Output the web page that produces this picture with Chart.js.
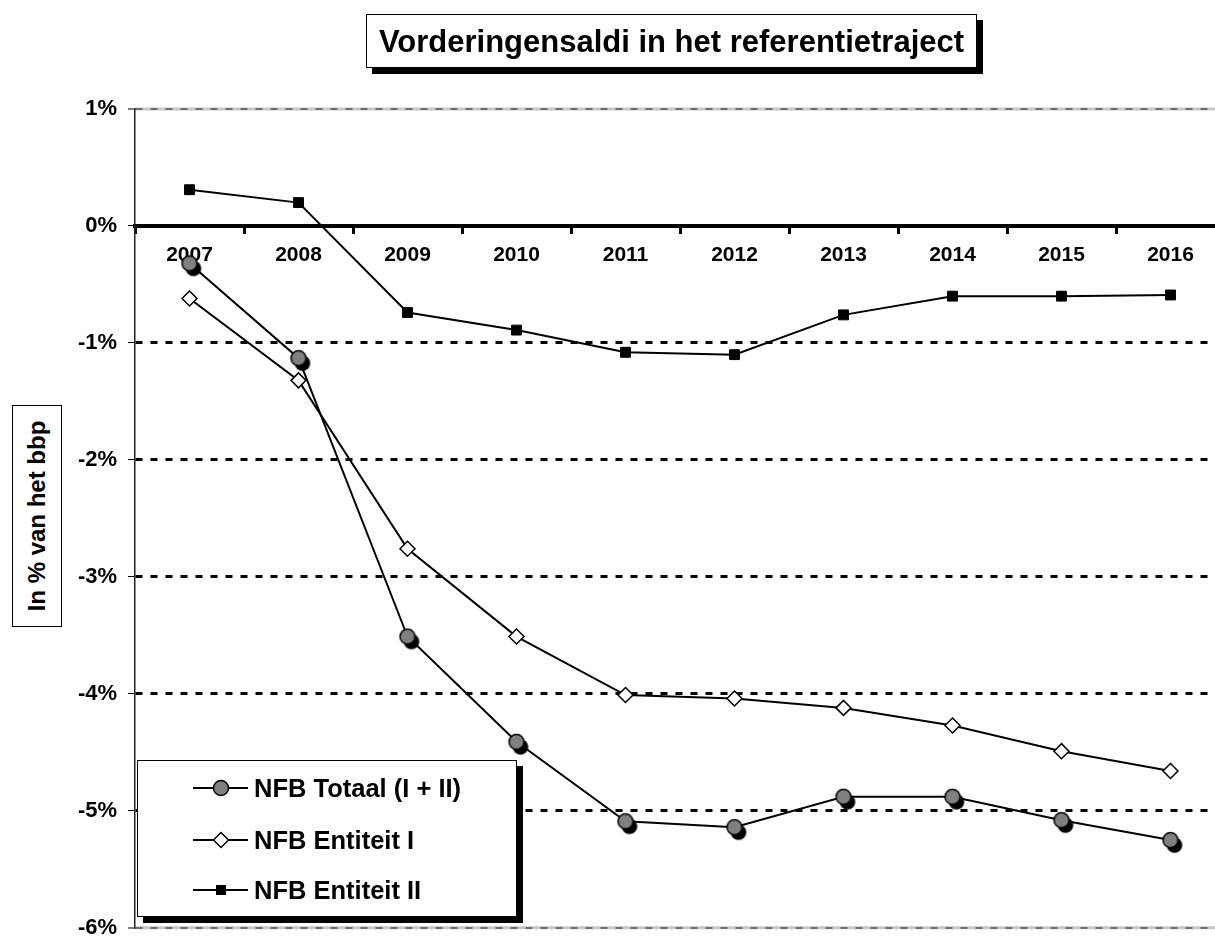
<!DOCTYPE html>
<html>
<head>
<meta charset="utf-8">
<script src="https://cdn.jsdelivr.net/npm/chart.js@4/dist/chart.umd.min.js"></script>
<style>
html,body{margin:0;padding:0;background:#fff;overflow:hidden;}
#wrap{position:relative;width:1215px;height:936px;overflow:hidden;background:#fff;font-family:Arial,"Liberation Sans",sans-serif;}
#c{position:absolute;left:0;top:0;}
#title{position:absolute;left:366px;top:14px;width:609px;height:52px;border:1.5px solid #000;background:#fff;box-shadow:6px 6px 0 #000;
 font-weight:bold;font-size:31px;line-height:54px;text-align:center;white-space:nowrap;color:#000;}
#ytitle{position:absolute;left:12px;top:405px;width:48px;height:220px;border:1.5px solid #000;background:#fff;}
#ytitle span{position:absolute;left:50%;top:50%;transform:translate(-50%,-50%) rotate(-90deg);white-space:nowrap;font-weight:bold;font-size:24px;color:#000;}
#legend{position:absolute;left:137px;top:760px;width:378px;height:155px;border:1.5px solid #000;background:#fff;box-shadow:6px 6px 0 #000;}
.row{position:absolute;left:0;height:30px;}
.row svg{position:absolute;left:53px;top:0;}
.row span{position:absolute;left:116px;top:0;line-height:30px;font-weight:bold;font-size:25.5px;white-space:nowrap;color:#000;}
</style>
</head>
<body>
<div id="wrap">
<canvas id="c" width="1240" height="952"></canvas>
<div id="title">Vorderingensaldi in het referentietraject</div>
<div id="ytitle"><span>In % van het bbp</span></div>
<div id="legend">
 <div class="row" style="top:12px"><svg width="60" height="30"><line x1="2" y1="15" x2="57" y2="15" stroke="#000" stroke-width="2"/><circle cx="30" cy="15" r="7.5" fill="#808080" stroke="#000" stroke-width="1.5"/></svg><span id="l0"></span></div>
 <div class="row" style="top:64px"><svg width="60" height="30"><line x1="2" y1="15" x2="57" y2="15" stroke="#000" stroke-width="2"/><polygon points="30,7.5 37.5,15 30,22.5 22.5,15" fill="#fff" stroke="#000" stroke-width="1.5"/></svg><span id="l1"></span></div>
 <div class="row" style="top:114px"><svg width="60" height="30"><line x1="2" y1="15" x2="57" y2="15" stroke="#000" stroke-width="2"/><rect x="25" y="10" width="10" height="10" fill="#000"/></svg><span id="l2"></span></div>
</div>
</div>
<script>
// ---- data ----
const years = ['2007','2008','2009','2010','2011','2012','2013','2014','2015','2016'];
const seriesNames = ['NFB Totaal (I + II)', 'NFB Entiteit I', 'NFB Entiteit II'];
const totaal     = [-0.32, -1.13, -3.51, -4.41, -5.09, -5.14, -4.88, -4.88, -5.08, -5.25];
const entiteitI  = [-0.62, -1.32, -2.76, -3.51, -4.01, -4.04, -4.12, -4.27, -4.49, -4.66];
const entiteitII = [ 0.31,  0.20, -0.74, -0.89, -1.08, -1.10, -0.76, -0.60, -0.60, -0.59];
const yTicks = [1, 0, -1, -2, -3, -4, -5, -6];

document.getElementById('l0').textContent = seriesNames[0];
document.getElementById('l1').textContent = seriesNames[1];
document.getElementById('l2').textContent = seriesNames[2];

// circle marker with drop shadow
const circ = document.createElement('canvas');
circ.width = 30; circ.height = 30;
(function(){
  const g = circ.getContext('2d');
  g.fillStyle = '#000';
  g.beginPath(); g.arc(15 + 4, 15 + 5, 7.8, 0, Math.PI * 2); g.fill();
  g.fillStyle = '#808080'; g.strokeStyle = '#000'; g.lineWidth = 1.5;
  g.beginPath(); g.arc(15, 15, 7.5, 0, Math.PI * 2); g.fill(); g.stroke();
})();

const FONT = 'Arial, "Liberation Sans", sans-serif';

const frame = {
  id: 'frame',
  beforeDraw(chart) {
    const {ctx, chartArea: a} = chart;
    ctx.save();
    ctx.strokeStyle = '#c8c8c8'; ctx.lineWidth = 3;
    ctx.beginPath();
    ctx.moveTo(a.left, a.top); ctx.lineTo(a.right, a.top);
    ctx.moveTo(a.left, a.bottom); ctx.lineTo(a.right, a.bottom);
    ctx.stroke();
    ctx.restore();
  }
};

new Chart(document.getElementById('c'), {
  type: 'line',
  data: {
    labels: years,
    datasets: [
      { label: seriesNames[0], data: totaal, borderColor: '#000', borderWidth: 2, tension: 0,
        pointStyle: circ, pointRadius: 9, order: 1 },
      { label: seriesNames[1], data: entiteitI, borderColor: '#000', borderWidth: 2, tension: 0,
        pointStyle: 'rectRot', pointRadius: 7.5, pointBackgroundColor: '#fff', pointBorderColor: '#000', pointBorderWidth: 1.5, order: 2 },
      { label: seriesNames[2], data: entiteitII, borderColor: '#000', borderWidth: 2, tension: 0,
        pointStyle: 'rect', pointRadius: 7, pointBackgroundColor: '#000', pointBorderColor: '#000', pointBorderWidth: 1, order: 3 }
    ]
  },
  options: {
    responsive: false,
    animation: false,
    layout: { padding: { left: 0, top: 109, right: 15, bottom: 24 } },
    plugins: { legend: { display: false }, tooltip: { enabled: false }, title: { display: false } },
    scales: {
      x: {
        type: 'category',
        position: { y: 0 },
        offset: true,
        grid: { offset: true, drawOnChartArea: false, drawTicks: true, tickLength: 6, tickWidth: 3, tickColor: '#000' },
        border: { display: true, color: '#000', width: 4 },
        ticks: { color: '#000', font: { family: FONT, size: 21, weight: 'bold' }, padding: 11, maxRotation: 0, autoSkip: false }
      },
      y: {
        position: 'left',
        min: -6, max: 1,
        afterFit(s) { s.width = 135; },
        afterBuildTicks(s) { s.ticks = yTicks.map(v => ({ value: v })); },
        grid: {
          color: c => { const v = c.tick ? c.tick.value : null; if (v === 0) return 'rgba(0,0,0,0)'; if (v === 1 || v === -6) return '#6e6e6e'; return '#000'; },
          lineWidth: c => { const v = c.tick ? c.tick.value : null; if (v === 1 || v === -6) return 2; return 3; },
          drawTicks: true, tickLength: 7, tickWidth: 1, tickColor: '#000'
        },
        border: { display: true, color: '#222', width: 1.5, dash: [7, 8] },
        ticks: { color: '#000', font: { family: FONT, size: 22, weight: 'bold' }, padding: 11,
          callback: v => v + '%' }
      }
    }
  },
  plugins: [frame]
});
</script>
</body>
</html>
